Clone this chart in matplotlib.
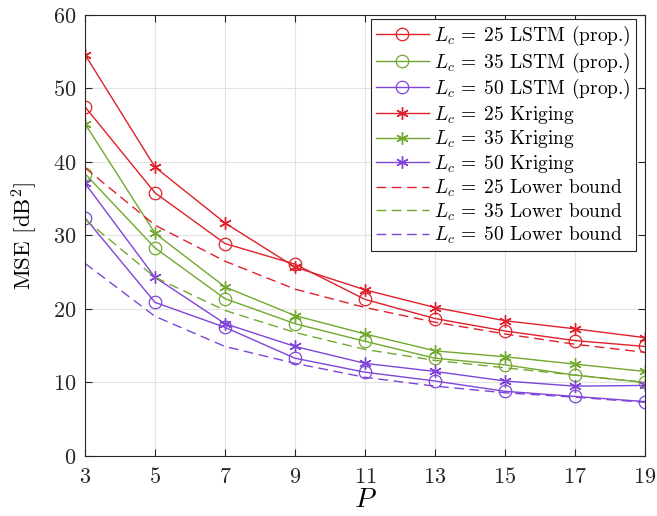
import numpy as np
import matplotlib
matplotlib.use("Agg")
import matplotlib.pyplot as plt

plt.rcParams['font.family'] = 'serif'
plt.rcParams['font.serif'] = ['cmr10', 'DejaVu Serif']
plt.rcParams['mathtext.fontset'] = 'cm'
plt.rcParams['axes.formatter.use_mathtext'] = True

# data
P = [3, 5, 7, 9, 11, 13, 15, 17, 19]

lstm_25 = [47.5, 35.8, 28.9, 26.1, 21.3, 18.7, 17.0, 15.7, 14.9]
lstm_35 = [38.4, 28.3, 21.4, 18.0, 15.6, 13.3, 12.4, 11.0, 10.0]
lstm_50 = [32.4, 20.9, 17.5, 13.3, 11.4, 10.2, 8.8, 8.1, 7.4]

krig_25 = [54.6, 39.3, 31.7, 25.7, 22.6, 20.2, 18.4, 17.3, 16.1]
krig_35 = [45.2, 30.3, 23.0, 19.1, 16.6, 14.3, 13.5, 12.5, 11.5]
krig_50 = [37.1, 24.3, 18.0, 14.9, 12.6, 11.5, 10.2, 9.5, 9.6]

lb_25 = [39.2, 31.4, 26.5, 22.7, 20.2, 18.2, 16.6, 15.2, 14.1]
lb_35 = [32.2, 24.3, 19.8, 16.8, 14.5, 13.0, 12.0, 11.0, 10.0]
lb_50 = [26.2, 19.0, 14.9, 12.6, 10.7, 9.5, 8.6, 8.0, 7.3]

labels = ['25', '35', '50']
red, green, purple = '#E0202A', '#72A82E', '#7F45D8'
colors = [red, green, purple]

fig = plt.figure(figsize=(6.57, 5.16), dpi=100)
ax = fig.add_axes([0.1294, 0.1163, 0.8524, 0.8547])

asterisk = (6, 2, 0)
lc = r'$L_c\,=\;%s$'
for lab, c, y in zip(labels, colors, [lstm_25, lstm_35, lstm_50]):
    ax.plot(P, y, color=c, lw=1.0, marker='o', ms=9, mfc='none', mew=0.9,
            label=lc % lab + ' LSTM (prop.)')
for lab, c, y in zip(labels, colors, [krig_25, krig_35, krig_50]):
    ax.plot(P, y, color=c, lw=1.0, marker=asterisk, ms=9, mew=1.0,
            label=lc % lab + ' Kriging')
for lab, c, y in zip(labels, colors, [lb_25, lb_35, lb_50]):
    ax.plot(P, y, color=c, lw=1.0, ls=(0, (7, 4)),
            label=lc % lab + ' Lower bound')

ax.set_xlim(3, 19)
ax.set_ylim(0, 60)
ax.set_xticks(np.arange(3, 20, 2))
ax.set_yticks(np.arange(0, 61, 10))
ax.grid(True, color='#e3e3e3', lw=0.8)
ax.set_axisbelow(True)
ax.tick_params(direction='in', top=True, right=True, labelsize=16, colors='#262626',
               length=5, width=0.8)
ax.tick_params(axis='x', pad=8)
ax.tick_params(axis='y', pad=6.5)
for s in ax.spines.values():
    s.set_color('#262626')
    s.set_linewidth(0.8)

ax.set_xlabel(r'$P$', fontsize=20, labelpad=0)
ax.set_ylabel(r'MSE [dB$^2$]', fontsize=16.5, labelpad=9)

leg = ax.legend(loc='upper right', bbox_to_anchor=(636 / 657, 1 - 19 / 516),
                bbox_transform=fig.transFigure, fontsize=14, frameon=True,
                fancybox=False, edgecolor='#262626', framealpha=1,
                borderaxespad=0, handlelength=2.7, labelspacing=0.13,
                borderpad=0.25, handletextpad=0.3)
leg.get_frame().set_linewidth(0.8)

fig.savefig('out.png', dpi=100)
